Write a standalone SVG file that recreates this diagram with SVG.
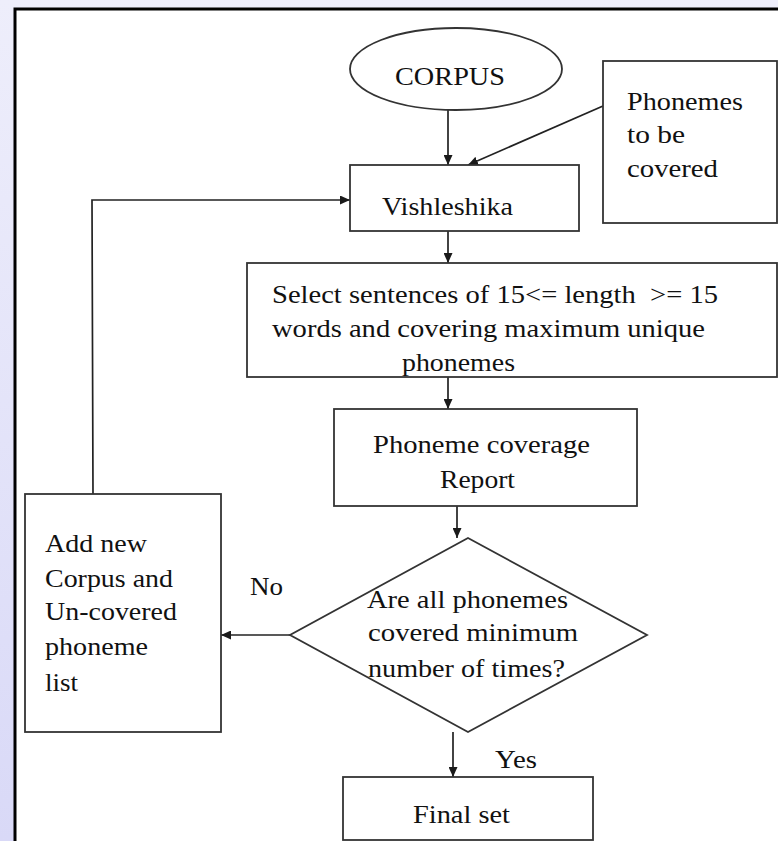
<svg xmlns="http://www.w3.org/2000/svg" width="778" height="841" viewBox="0 0 778 841">
  <defs>
    <linearGradient id="bg" x1="0" y1="0" x2="0" y2="1">
      <stop offset="0" stop-color="#eeeefb"/>
      <stop offset="1" stop-color="#d9d9f7"/>
    </linearGradient>
    <marker id="arr" markerUnits="userSpaceOnUse" markerWidth="11" markerHeight="9" refX="10" refY="4.5" orient="auto">
      <path d="M0,0 L10,4.5 L0,9 Z" fill="#1a1a1a"/>
    </marker>
    <style>
      .shape { fill: #ffffff; stroke: #333333; stroke-width: 1.8; }
      .conn { fill: none; stroke: #222222; stroke-width: 1.7; marker-end: url(#arr); }
      .t { font-family: "Liberation Serif", "Times New Roman", serif; font-size: 26px; fill: #111111; }
    </style>
  </defs>

  <rect x="0" y="0" width="778" height="841" fill="url(#bg)"/>
  <rect x="15" y="9" width="775" height="840" fill="#ffffff" stroke="#000000" stroke-width="3"/>

  <g id="connectors">
    <path class="conn" d="M448 110 V165"/>
    <path class="conn" d="M603 106 L468 165"/>
    <path class="conn" d="M93 494 L92 200 H350"/>
    <path class="conn" d="M448 231 V263"/>
    <path class="conn" d="M448 377 V409"/>
    <path class="conn" d="M457 506 V538"/>
    <path class="conn" d="M290 635 H221"/>
    <path class="conn" d="M453 732 V777"/>
  </g>

  <g id="corpus">
    <ellipse class="shape" cx="456" cy="69" rx="106" ry="41"/>
    <text class="t" x="395" y="85" textLength="110" lengthAdjust="spacingAndGlyphs">CORPUS</text>
  </g>

  <g id="phonemes-to-cover">
    <rect class="shape" x="603" y="61" width="174" height="162"/>
    <text class="t" x="627" y="110" textLength="116" lengthAdjust="spacingAndGlyphs">Phonemes</text>
    <text class="t" x="627" y="143" textLength="58" lengthAdjust="spacingAndGlyphs">to be</text>
    <text class="t" x="627" y="177" textLength="91" lengthAdjust="spacingAndGlyphs">covered</text>
  </g>

  <g id="vishleshika">
    <rect class="shape" x="350" y="165" width="229" height="66"/>
    <text class="t" x="382" y="215" textLength="131" lengthAdjust="spacingAndGlyphs">Vishleshika</text>
  </g>

  <g id="select">
    <rect class="shape" x="247" y="263" width="530" height="114"/>
    <text class="t" x="272" y="303" textLength="446" lengthAdjust="spacingAndGlyphs" xml:space="preserve">Select sentences of 15&lt;= length  &gt;= 15</text>
    <text class="t" x="272" y="337" textLength="433" lengthAdjust="spacingAndGlyphs">words and covering maximum unique</text>
    <text class="t" x="402" y="371" textLength="113" lengthAdjust="spacingAndGlyphs">phonemes</text>
  </g>

  <g id="coverage-report">
    <rect class="shape" x="334" y="409" width="303" height="97"/>
    <text class="t" x="373" y="453" textLength="217" lengthAdjust="spacingAndGlyphs">Phoneme coverage</text>
    <text class="t" x="440" y="488" textLength="75" lengthAdjust="spacingAndGlyphs">Report</text>
  </g>

  <g id="decision">
    <polygon class="shape" points="468,538 647,635 468,732 290,635"/>
    <text class="t" x="367" y="608" textLength="201" lengthAdjust="spacingAndGlyphs">Are all phonemes</text>
    <text class="t" x="368" y="641" textLength="210" lengthAdjust="spacingAndGlyphs">covered minimum</text>
    <text class="t" x="368" y="677" textLength="197" lengthAdjust="spacingAndGlyphs">number of times?</text>
  </g>

  <g id="add-new">
    <rect class="shape" x="25" y="494" width="196" height="238"/>
    <text class="t" x="45" y="552" textLength="102" lengthAdjust="spacingAndGlyphs">Add new</text>
    <text class="t" x="45" y="587" textLength="128" lengthAdjust="spacingAndGlyphs">Corpus and</text>
    <text class="t" x="45" y="620" textLength="132" lengthAdjust="spacingAndGlyphs">Un-covered</text>
    <text class="t" x="45" y="655" textLength="103" lengthAdjust="spacingAndGlyphs">phoneme</text>
    <text class="t" x="45" y="691" textLength="33" lengthAdjust="spacingAndGlyphs">list</text>
  </g>

  <g id="final-set">
    <rect class="shape" x="343" y="777" width="250" height="63"/>
    <text class="t" x="413" y="823" textLength="97" lengthAdjust="spacingAndGlyphs">Final set</text>
  </g>

  <g id="labels">
    <text class="t" x="250" y="595" textLength="33" lengthAdjust="spacingAndGlyphs">No</text>
    <text class="t" x="495" y="768" textLength="42" lengthAdjust="spacingAndGlyphs">Yes</text>
  </g>
</svg>
